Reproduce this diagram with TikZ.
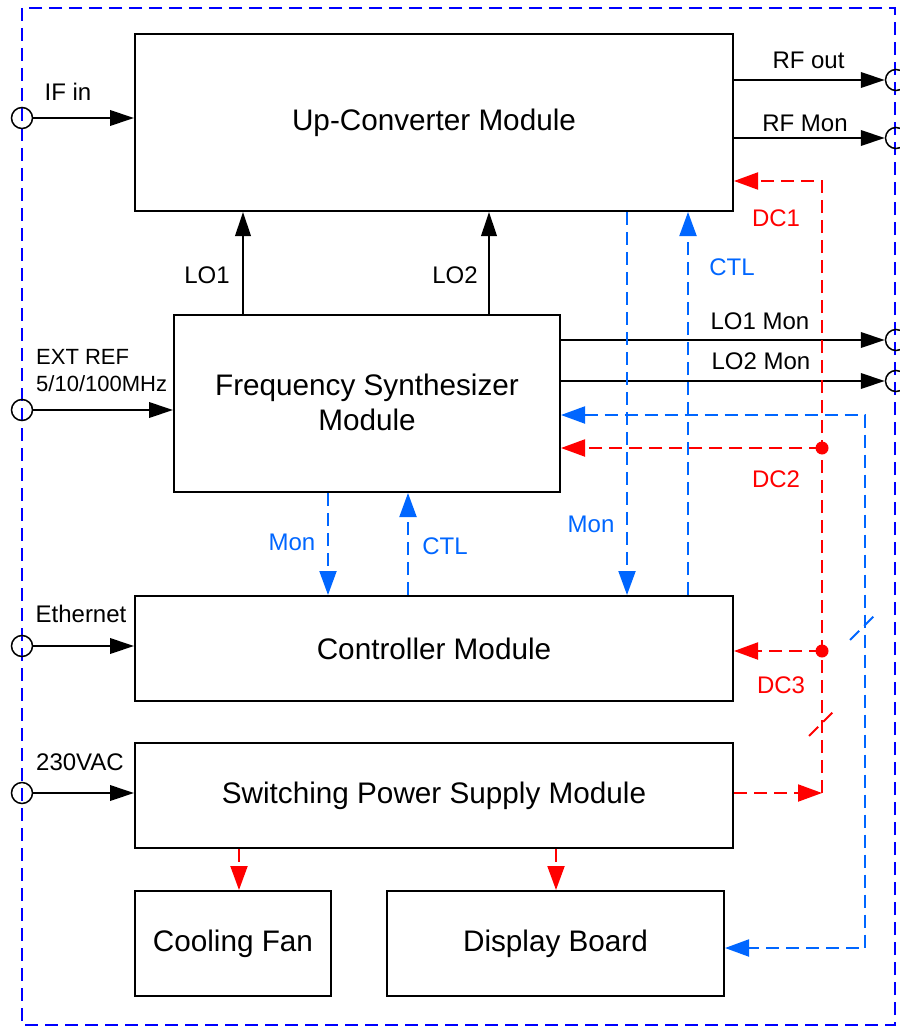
\documentclass[tikz,border=0pt]{standalone}
\usepackage{fontspec}
\setmainfont{Liberation Sans}
\usetikzlibrary{arrows.meta}
\definecolor{cblue}{RGB}{0,102,255}
\definecolor{obl}{RGB}{0,0,255}
\definecolor{cred}{RGB}{255,0,0}
\begin{document}
\begin{tikzpicture}[x=1pt,y=-1pt,
  box/.style={draw,line width=2pt,inner sep=0pt,font=\fontsize{29.7}{35}\selectfont},
  port/.style={draw,circle,line width=1.5pt,minimum size=21pt,inner sep=0pt},
  blk/.style={line width=2pt,-{Triangle[length=24pt,width=15.5pt]}},
  dsh/.style={line width=2pt,dash pattern=on 13pt off 7pt},
  bl/.style={dsh,draw=cblue,-{Triangle[length=24pt,width=17pt]},cblue},
  rd/.style={dsh,draw=cred,-{Triangle[length=24pt,width=17pt]},cred},
  lbl/.style={font=\fontsize{24}{28}\selectfont,inner sep=0pt,text height=17.2pt,text depth=0pt},
  lblb/.style={lbl,text=cblue},
  lblr/.style={lbl,text=cred}]
\useasboundingbox (0,0) rectangle (899,1027);
% outer frame
\draw[obl,line width=2pt,dash pattern=on 13pt off 7pt] (22,8) rectangle (895,1025);
% boxes
\node[box,minimum width=598pt,minimum height=177pt] (uc) at (434,122.5) {Up-Converter Module};
\node[box,minimum width=386pt,minimum height=177pt] (fs) at (367,403.5) {};
\node[font=\fontsize{29.7}{35}\selectfont,align=center,anchor=base] (fsl) at (367,430) {Frequency Synthesizer\\Module};
\node[box,minimum width=598pt,minimum height=105pt] (ctl) at (434,648.5) {Controller Module};
\node[box,minimum width=598pt,minimum height=105pt] (ps) at (434,795.5) {Switching Power Supply Module};
\node[box,minimum width=196pt,minimum height=105pt] (fan) at (233,943.5) {Cooling Fan};
\node[box,minimum width=337pt,minimum height=105pt] (disp) at (555.5,943.5) {Display Board};
% ports
\node[port] (pIF) at (22,118) {};
\node[port] (pEXT) at (22,410) {};
\node[port] (pETH) at (22,646) {};
\node[port] (pAC) at (22,793) {};
\node[port] (pRFo) at (896,80) {};
\node[port] (pRFm) at (896,138) {};
\node[port] (pLO1) at (896,340) {};
\node[port] (pLO2) at (896,381) {};
% coordinates
\coordinate (xLO1) at (243,0);
\coordinate (xLO2) at (489,0);
\coordinate (xMon1) at (328,0);
\coordinate (xCtl1) at (408,0);
\coordinate (xMon2) at (627,0);
\coordinate (xCtl2) at (688,0);
\coordinate (xFan) at (239,0);
\coordinate (xDisp) at (556,0);
\coordinate (j1) at (822,181);
\coordinate (j2) at (822,448);
\coordinate (j3) at (822,651);
\coordinate (jPS) at (822,793);
\coordinate (bTop) at (865,415);
\coordinate (bBot) at (865,948);
% black connectors
\draw[blk] (pIF) -- (pIF -| uc.west);
\draw[blk] (pEXT) -- (pEXT -| fs.west);
\draw[blk] (pETH) -- (pETH -| ctl.west);
\draw[blk] (pAC) -- (pAC -| ps.west);
\draw[blk] (uc.east |- pRFo) -- (pRFo);
\draw[blk] (uc.east |- pRFm) -- (pRFm);
\draw[blk] (fs.east |- pLO1) -- (pLO1);
\draw[blk] (fs.east |- pLO2) -- (pLO2);
\draw[blk] (fs.north -| xLO1) -- (uc.south -| xLO1);
\draw[blk] (fs.north -| xLO2) -- (uc.south -| xLO2);
% blue connectors
\draw[bl] (fs.south -| xMon1) -- (ctl.north -| xMon1);
\draw[bl] (ctl.north -| xCtl1) -- (fs.south -| xCtl1);
\draw[bl] (uc.south -| xMon2) -- (ctl.north -| xMon2);
\draw[bl] (ctl.north -| xCtl2) -- (uc.south -| xCtl2);
\draw[bl,{Triangle[length=24pt,width=17pt]}-{Triangle[length=24pt,width=17pt]}] (fs.east |- bTop) -- (bTop) -- (bBot) -- (disp.east |- bBot);
\draw[dsh,draw=cblue] (850,640) -- (875,615);
% red connectors
\draw[rd] (ps.east |- jPS) -- (jPS);
\draw[rd] (jPS) -- (j1) -- (uc.east |- j1);
\draw[rd] (j2) -- (fs.east |- j2);
\draw[rd] (j3) -- (ctl.east |- j3);
\fill[cred] (j2) circle (6.5);
\fill[cred] (j3) circle (6.5);
\draw[dsh,draw=cred] (809,736) -- (833,712);
\draw[rd] (ps.south -| xFan) -- (fan.north -| xFan);
\draw[rd] (ps.south -| xDisp) -- (disp.north -| xDisp);
% labels
\node[lbl] (tIF) at (68,92) {IF in};
\node[font=\fontsize{22}{27}\selectfont,align=left,anchor=base west,inner sep=0pt] (tEXT) at (36,391) {EXT REF\\5/10/100MHz};
\node[lbl] (tETH) at (81,614) {Ethernet};
\node[lbl] (tAC) at (80,762) {230VAC};
\node[lbl] (tRFo) at (808.5,60) {RF out};
\node[lbl] (tRFm) at (805,123) {RF Mon};
\node[lbl] (tLO1m) at (760,321) {LO1 Mon};
\node[lbl] (tLO2m) at (761,361) {LO2 Mon};
\node[lbl] (tLO1) at (207,275) {LO1};
\node[lbl] (tLO2) at (455,275) {LO2};
\node[lblb] (tC2) at (732,267) {CTL};
\node[lblb] (tM2) at (591,524) {Mon};
\node[lblb] (tM1) at (292,542) {Mon};
\node[lblb] (tC1) at (445,546) {CTL};
\node[lblr] (tDC1) at (776,218) {DC1};
\node[lblr] (tDC2) at (776,479) {DC2};
\node[lblr] (tDC3) at (781,685) {DC3};
\end{tikzpicture}
\end{document}
